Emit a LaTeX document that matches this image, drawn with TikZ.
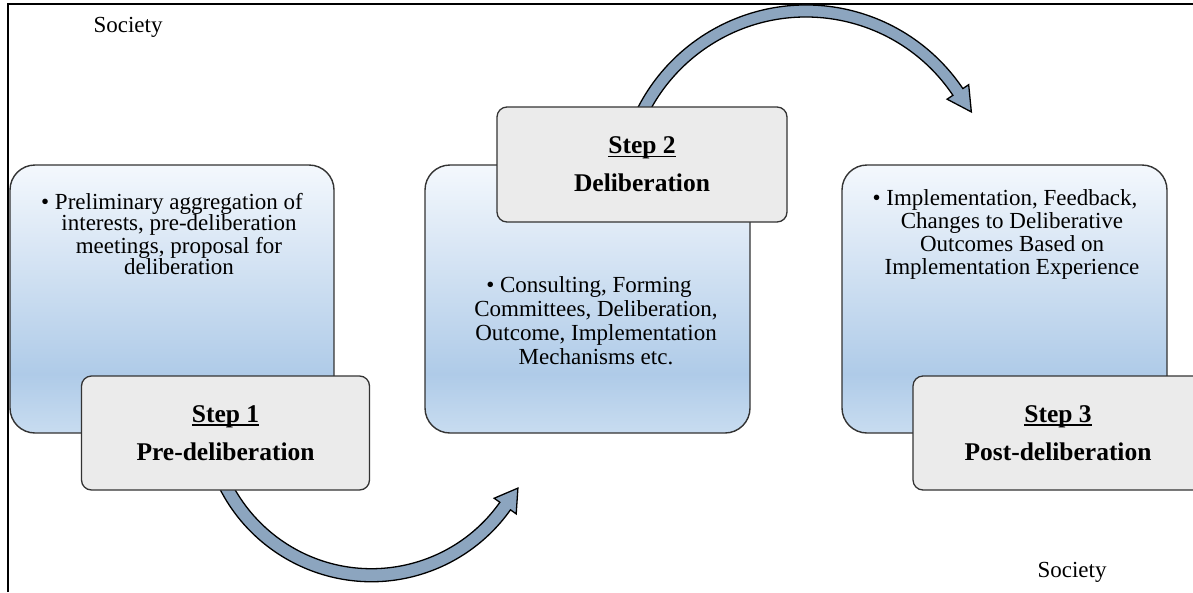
\documentclass[tikz,border=0pt]{standalone}
\usepackage{fontspec}
\setmainfont{Liberation Serif}

\definecolor{boxline}{HTML}{333333}
\definecolor{stepgrey}{HTML}{EBEBEB}
\definecolor{arrowfill}{HTML}{8CA5BF}
\definecolor{stagetop}{HTML}{F4F8FD}
\definecolor{stagemid}{HTML}{AFCBE8}
\definecolor{stagebot}{HTML}{C8DCF0}

% light-to-blue fill of the three stage panels (path spans 25bp..75bp)
\pgfdeclareverticalshading{stagegrad}{100bp}{%
  color(0bp)=(stagebot); color(25bp)=(stagebot); color(36bp)=(stagemid);
  color(75bp)=(stagetop); color(100bp)=(stagetop)}

% underline scaled to the large bold headings
\newcommand{\ulstep}[1]{\setbox0\hbox{#1}\rlap{\rule[-3.6pt]{\wd0}{1.6pt}}\box0}

\tikzset{
  stagebox/.style={draw=boxline, line width=1.4pt, rounded corners=25pt,
    shading=stagegrad, minimum width=325pt, minimum height=268pt, inner sep=0pt},
  stepbox/.style={draw=boxline, line width=1.3pt, rounded corners=10pt,
    fill=stepgrey, minimum width=290pt, minimum height=114pt, inner sep=0pt,
    align=center, font=\fontsize{25.5}{38}\selectfont\bfseries},
  stagetext/.style={align=center, inner sep=0pt},
  society/.style={inner sep=0pt, font=\fontsize{23}{26}\selectfont},
  arrowband/.style={fill=arrowfill, draw=black, line width=1.3pt, line join=miter},
}

\begin{document}
\begin{tikzpicture}[x=1pt, y=1pt]
\useasboundingbox (0,0) rectangle (1193,-592);

% outer frame (left and top edges)
\draw[line width=2pt] (8.3,-592) -- (8.3,-4.3) -- (1193,-4.3);

% society labels
\node[society] (socTop) at (128,-27) {Society};
\node[society] (socBot) at (1072,-572) {Society};

% stage panels
\node[stagebox, minimum width=324pt] (stage1) at (172,-299) {};
\node[stagebox] (stage2) at (587.5,-299) {};
\node[stagebox] (stage3) at (1004.5,-299) {};

\node[stagetext, font=\fontsize{23}{20.7}\selectfont] (text1) at (179,-234)
  {\textbullet\ Preliminary aggregation of\hspace*{14pt}\\interests, pre-deliberation\\meetings, proposal for\\deliberation};
\node[stagetext, font=\fontsize{23}{24}\selectfont] (text2) at (596,-321)
  {\textbullet\ Consulting, Forming\hspace*{14pt}\\Committees, Deliberation,\\Outcome, Implementation\\Mechanisms etc.};
\node[stagetext, font=\fontsize{23}{23.3}\selectfont] (text3) at (1012,-234.5)
  {\textbullet\ Implementation, Feedback,\hspace*{14pt}\\Changes to Deliberative\\Outcomes Based on\\Implementation Experience};

% curved arrow from step 1 towards step 2
\begin{scope}[shift={(371.5,-411.4)}]
  \draw[arrowband] (200:170.3pt) arc[start angle=200, end angle=324.7, radius=170.3pt]
    -- (324.7:177.3pt) -- (332.35:165.3pt) -- (324.7:150.3pt) -- (324.7:157.3pt)
    arc[start angle=324.7, end angle=200, radius=157.3pt] -- cycle;
\end{scope}

% curved arrow from step 2 towards step 3
\begin{scope}[shift={(806,-194)}]
  \draw[arrowband] (160:189pt) arc[start angle=160, end angle=33.9, radius=189pt]
    -- (33.9:196pt) -- (26.4:184.6pt) -- (33.9:170pt) -- (33.9:177pt)
    arc[start angle=33.9, end angle=160, radius=177pt] -- cycle;
\end{scope}

% step labels
\node[stepbox, minimum width=288pt] (step1) at (225.5,-433) {\ulstep{Step 1}\\Pre-deliberation};
\node[stepbox, minimum height=115pt] (step2) at (642,-164.5) {\ulstep{Step 2}\\Deliberation};
\node[stepbox] (step3) at (1058,-433) {\ulstep{Step 3}\\Post-deliberation};
\end{tikzpicture}
\end{document}
